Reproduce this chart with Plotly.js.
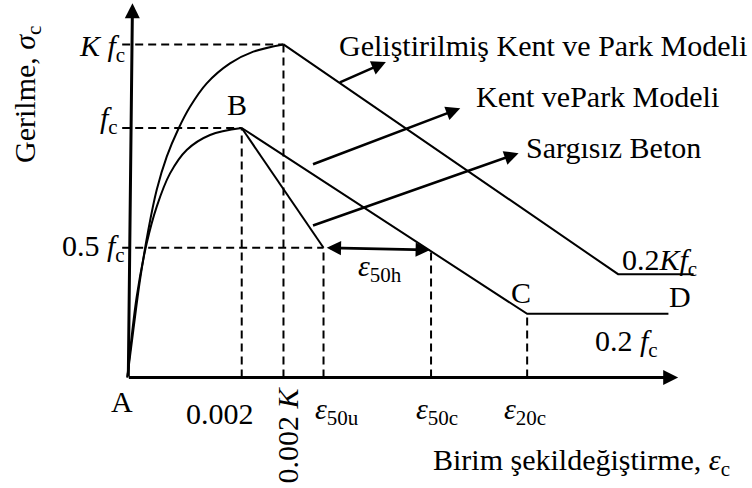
<!DOCTYPE html>
<html>
<head>
<meta charset="utf-8">
<script src="https://cdn.plot.ly/plotly-3.0.1.min.js"></script>
<style>
  html, body { margin: 0; padding: 0; background: #fff; }
  #chart { width: 752px; height: 488px; }
</style>
</head>
<body>
<div id="chart"></div>
<script>
// Strain in units of 10^-3, stress as a fraction of f_c (schematic levels).

// Rising branch of unconfined concrete (A -> B)
const unconfinedStrain = [0, 0.164, 0.339, 0.514, 0.747, 1.038, 1.446, 2.0];
const unconfinedStress = [0, 0.324, 0.538, 0.685, 0.818, 0.912, 0.972, 1.0];

// Rising branch of the modified (confined) model up to K f_c
const confinedStrain = [0, 0.105, 0.222, 0.367, 0.514, 0.689, 0.892, 1.096, 1.388, 1.795, 2.203, 2.73];
const confinedStress = [0, 0.19, 0.391, 0.591, 0.752, 0.885, 0.996, 1.085, 1.179, 1.259, 1.306, 1.335];

// Descending branches
const unconfinedFallStrain = [2.0, 3.43];
const unconfinedFallStress = [1.0, 0.52];
const kentParkFallStrain = [2.0, 6.99, 9.46];          // B -> C -> D
const kentParkFallStress = [1.0, 0.255, 0.255];
const modifiedFallStrain = [2.73, 8.58, 9.90];
const modifiedFallStress = [1.335, 0.414, 0.414];

// Reference levels on the stress axis
const levelNames = ['<i>K</i> <i>f</i><sub>c</sub>', '<i>f</i><sub>c</sub>', '0.5 <i>f</i><sub>c</sub>'];
const levelStress = [1.335, 1.0, 0.52];
const levelEndStrain = [2.73, 2.0, 3.43];

// Reference strains on the strain axis
const strainNames = ['0.002', '0.002 <i>K</i>', '<i>ε</i><sub>50u</sub>', '<i>ε</i><sub>50c</sub>', '<i>ε</i><sub>20c</sub>'];
const strainValues = [2.0, 2.73, 3.43, 5.31, 6.99];
const strainTopStress = [1.0, 1.335, 0.52, 0.506, 0.255];

// Callout arrows: tails and tips
const calloutTailStrain = [3.69, 3.22, 3.22];
const calloutTailStress = [1.18, 0.852, 0.607];
const calloutTipStrain = [4.52, 5.82, 6.84];
const calloutTipStress = [1.264, 1.079, 0.899];
const calloutNames = ['Geliştirilmiş Kent ve Park Modeli', 'Kent vePark Modeli', 'Sargısız Beton'];

// ε50h span
const spanStrain = [3.46, 5.29];
const spanStress = [0.52, 0.511];

// Axis extents
const strainAxisEnd = 9.63;
const stressAxisTop = [0.09, 1.50];

// ---------------------------------------------------------------
const W = 752, H = 488;
const FONT = 'Liberation Serif';
const FS = 30;
const px = v => v / W;          // pixel -> paper x
const py = v => 1 - v / H;      // pixel -> paper y

const solid = (x, y) => ({
  type: 'scatter', mode: 'lines', x: x, y: y,
  line: { color: '#000', width: 2 }, hoverinfo: 'skip'
});
const smooth = (x, y) => ({
  type: 'scatter', mode: 'lines', x: x, y: y,
  line: { color: '#000', width: 2, shape: 'spline', smoothing: 1 }, hoverinfo: 'skip'
});

// dashed guides built from the level and strain arrays
const dashX = [], dashY = [];
levelStress.forEach((s, i) => { dashX.push(-0.09, levelEndStrain[i], null); dashY.push(s, s, null); });
strainValues.forEach((e, i) => { dashX.push(e, e, null); dashY.push(0, strainTopStress[i], null); });

const traces = [
  smooth(unconfinedStrain, unconfinedStress),
  smooth(confinedStrain, confinedStress),
  solid(unconfinedFallStrain, unconfinedFallStress),
  solid(kentParkFallStrain, kentParkFallStress),
  solid(modifiedFallStrain, modifiedFallStress),
  {
    type: 'scatter', mode: 'lines', x: dashX, y: dashY, connectgaps: false,
    line: { color: '#000', width: 2, dash: '8px,5px' }, hoverinfo: 'skip'
  }
];

const ann = [];
const arrow = (x, y, ax, ay, w, extra) => Object.assign({
  x: x, y: y, ax: ax, ay: ay, xref: 'x', yref: 'y', axref: 'x', ayref: 'y',
  text: '', showarrow: true, arrowhead: 2, arrowsize: 1.1, arrowwidth: w,
  arrowcolor: '#000', standoff: 0
}, extra || {});

// axes with arrowheads
ann.push(arrow(strainAxisEnd, 0, 0, 0, 3, { arrowsize: 1.0 }));
ann.push(arrow(stressAxisTop[0], stressAxisTop[1], 0.017, 0, 3, { arrowsize: 1.0 }));

// callouts
calloutTipStrain.forEach((e, i) => {
  ann.push(arrow(e, calloutTipStress[i], calloutTailStrain[i], calloutTailStress[i], 2.6));
});
// ε50h double arrow
ann.push(arrow(spanStrain[1], spanStress[1], spanStrain[0], spanStress[0], 2.6,
  { arrowside: 'end+start' }));

const label = (text, x, y, opts) => Object.assign({
  text: text, x: px(x), y: py(y), xref: 'paper', yref: 'paper',
  showarrow: false, xanchor: 'center', yanchor: 'middle',
  font: { family: FONT, size: FS, color: '#000' }
}, opts || {});

// callout texts
ann.push(label(calloutNames[0], 337, 46, { xanchor: 'left' }));
ann.push(label(calloutNames[1], 474, 97, { xanchor: 'left' }));
ann.push(label(calloutNames[2], 524, 147, { xanchor: 'left' }));

// point letters
ann.push(label('A', 122, 401));
ann.push(label('B', 237, 104));
ann.push(label('C', 521, 292));
ann.push(label('D', 680, 296));

// plateau labels
ann.push(label('0.2<i>Kf</i><sub>c</sub>', 699, 262, { xanchor: 'right' }));
ann.push(label('0.2 <i>f</i><sub>c</sub>', 660, 343, { xanchor: 'right' }));

// stress axis labels
const levelLabelRight = [127, 120, 127];
const levelLabelY = [48, 120, 248];
levelNames.forEach((t, i) => ann.push(label(t, levelLabelRight[i], levelLabelY[i], { xanchor: 'right' })));

// strain axis labels, placed at their guides with a small horizontal offset
const strainLabelShift = [-22, 4, 13, 6, -2];   // px
const strainLabelY = [413, 435, 411, 411, 411];
strainNames.forEach((t, i) => {
  const a = label(t, 0, strainLabelY[i]);
  a.x = strainValues[i]; a.xref = 'x';
  a.xshift = strainLabelShift[i];
  if (i === 1) a.textangle = -90;
  ann.push(a);
});

// ε50h
ann.push(label('<i>ε</i><sub>50h</sub>', 380, 268));

// axis titles
ann.push(label('Gerilme, <i>σ</i><sub>c</sub>', 27, 95, { textangle: -90 }));
ann.push(label('Birim şekildeğiştirme, <i>ε</i><sub>c</sub>', 431, 462, { xanchor: 'left' }));

const layout = {
  width: W, height: H,
  margin: { l: 0, r: 0, t: 0, b: 0 },
  paper_bgcolor: '#fff', plot_bgcolor: '#fff',
  showlegend: false,
  xaxis: { range: [-2.226, 10.921], visible: false, fixedrange: true },
  yaxis: { range: [-0.443, 1.513], visible: false, fixedrange: true },
  annotations: ann
};

Plotly.newPlot('chart', traces, layout, { displayModeBar: false });
</script>
</body>
</html>
